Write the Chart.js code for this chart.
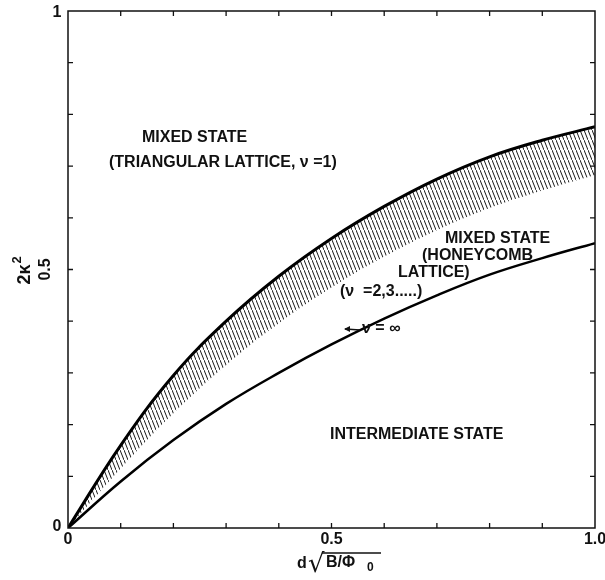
<!DOCTYPE html>
<html>
<head>
<meta charset="utf-8">
<script src="https://cdn.jsdelivr.net/npm/chart.js@4.4.1/dist/chart.umd.min.js"></script>
<style>
  html, body { margin: 0; padding: 0; background: #fff; }
  canvas { display: block; }
</style>
</head>
<body>
<canvas id="phaseChart" width="605" height="580"></canvas>
<script>
// --- data ---
const xValues = [0, 0.1, 0.2, 0.3, 0.4, 0.5, 0.6, 0.7, 0.8, 0.9, 1.0];
// upper boundary (triangular lattice, nu = 1)
const upperCurve = [0, 0.16, 0.295, 0.40, 0.487, 0.56, 0.622, 0.675, 0.718, 0.75, 0.776];
// lower edge of the hatched band
const bandLower = [0, 0.115, 0.222, 0.315, 0.396, 0.465, 0.525, 0.576, 0.619, 0.653, 0.683];
// nu = infinity boundary
const infCurve = [0, 0.09, 0.17, 0.24, 0.30, 0.355, 0.405, 0.45, 0.49, 0.522, 0.551];

const minorTicks = [0.1, 0.2, 0.3, 0.4, 0.5, 0.6, 0.7, 0.8, 0.9];
const xTickLabels = ['0', '0.5', '1.0'];
const xTickValues = [0, 0.5, 1.0];
const yTickLabels = ['0', '0.5', '1'];
const yTickValues = [0, 0.5, 1];

const toPoints = ys => xValues.map((x, i) => ({ x: x, y: ys[i] }));

// hatch pattern for the band
const tile = document.createElement('canvas');
tile.width = 4;
tile.height = 10;
const tctx = tile.getContext('2d');
tctx.strokeStyle = '#1a1a1a';
tctx.lineWidth = 1;
tctx.beginPath();
tctx.moveTo(-4, -10);
tctx.lineTo(8, 20);
tctx.stroke();
const hatch = tctx.createPattern(tile, 'repeat');

const FONT = '"Liberation Sans", Arial, sans-serif';

// --- frame, inward ticks, labels ---
const decorations = {
    id: 'decorations',
    afterDraw(chart) {
        const { ctx, chartArea: a, scales: { x, y } } = chart;
        ctx.save();
        ctx.strokeStyle = '#111';
        ctx.lineWidth = 1.5;
        ctx.strokeRect(a.left, a.top, a.right - a.left, a.bottom - a.top);

        const tl = 5;
        ctx.lineWidth = 1.3;
        ctx.beginPath();
        minorTicks.forEach(v => {
            const px = x.getPixelForValue(v);
            ctx.moveTo(px, a.bottom); ctx.lineTo(px, a.bottom - tl);
            ctx.moveTo(px, a.top); ctx.lineTo(px, a.top + tl);
            const py = y.getPixelForValue(v);
            ctx.moveTo(a.left, py); ctx.lineTo(a.left + tl, py);
            ctx.moveTo(a.right, py); ctx.lineTo(a.right - tl, py);
        });
        ctx.stroke();

        ctx.fillStyle = '#111';
        ctx.font = 'bold 16px ' + FONT;
        ctx.textAlign = 'center';
        ctx.textBaseline = 'middle';

        // x tick labels
        xTickValues.forEach((v, i) => {
            ctx.fillText(xTickLabels[i], x.getPixelForValue(v), a.bottom + 12);
        });
        // y tick labels: 0 and 1 upright, 0.5 rotated
        yTickValues.forEach((v, i) => {
            const py = y.getPixelForValue(v);
            if (yTickLabels[i] === '0.5') {
                ctx.save();
                ctx.translate(a.left - 22, py);
                ctx.rotate(-Math.PI / 2);
                ctx.fillText(yTickLabels[i], 0, 0);
                ctx.restore();
            } else {
                ctx.fillText(yTickLabels[i], a.left - 11, py + (v === 1 ? 2 : -1));
            }
        });

        // y title 2κ²
        ctx.save();
        ctx.translate(24, y.getPixelForValue(0.5));
        ctx.rotate(-Math.PI / 2);
        ctx.textAlign = 'left';
        ctx.font = 'bold 18px ' + FONT;
        ctx.fillText('2\u03ba', -15, 1);
        ctx.font = 'bold 13px ' + FONT;
        ctx.fillText('2', 6, -7);
        ctx.restore();

        // x title d √(B/Φ0)
        ctx.textAlign = 'left';
        ctx.font = 'bold 16px ' + FONT;
        ctx.fillText('d', 297, 564);
        ctx.font = '26px "DejaVu Sans", ' + FONT;
        ctx.fillText('\u221a', 308, 565);
        ctx.font = 'bold 16px ' + FONT;
        ctx.fillText('B/\u03a6', 326, 563);
        ctx.font = 'bold 12px ' + FONT;
        ctx.fillText('0', 367, 568);
        ctx.lineWidth = 1.5;
        ctx.beginPath();
        ctx.moveTo(322, 553);
        ctx.lineTo(381, 553);
        ctx.stroke();

        // region labels
        ctx.font = 'bold 16px ' + FONT;
        ctx.textAlign = 'left';
        ctx.fillText('MIXED STATE', 142, 138);
        ctx.fillText('(TRIANGULAR LATTICE, \u03bd =1)', 109, 163);
        ctx.fillText('MIXED STATE', 445, 239);
        ctx.fillText('(HONEYCOMB', 422, 256);
        ctx.fillText('LATTICE)', 398, 273);
        ctx.fillText('(\u03bd  =2,3.....)', 340, 292);
        ctx.fillText('\u03bd = \u221e', 362, 329);
        ctx.fillText('INTERMEDIATE STATE', 330, 435);

        // arrow pointing at the nu = infinity curve
        ctx.lineWidth = 1.3;
        ctx.beginPath();
        ctx.moveTo(360, 330);
        ctx.lineTo(345, 329);
        ctx.stroke();
        ctx.beginPath();
        ctx.moveTo(344, 329);
        ctx.lineTo(350, 326);
        ctx.lineTo(350, 332);
        ctx.closePath();
        ctx.fill();
        ctx.restore();
    }
};

new Chart(document.getElementById('phaseChart'), {
    type: 'line',
    data: {
        datasets: [
            {
                data: toPoints(upperCurve),
                borderColor: '#000',
                borderWidth: 3,
                backgroundColor: hatch,
                fill: '+1',
                pointRadius: 0,
                tension: 0.4
            },
            {
                data: toPoints(bandLower),
                borderWidth: 0,
                borderColor: 'rgba(0,0,0,0)',
                fill: false,
                pointRadius: 0,
                tension: 0.4
            },
            {
                data: toPoints(infCurve),
                borderColor: '#000',
                borderWidth: 2.5,
                fill: false,
                pointRadius: 0,
                tension: 0.4
            }
        ]
    },
    options: {
        responsive: false,
        animation: false,
        layout: { padding: { left: 68, right: 10, top: 11, bottom: 52 } },
        plugins: {
            legend: { display: false },
            tooltip: { enabled: false }
        },
        scales: {
            x: { type: 'linear', min: 0, max: 1, display: false },
            y: { type: 'linear', min: 0, max: 1, display: false }
        }
    },
    plugins: [decorations]
});
</script>
</body>
</html>
